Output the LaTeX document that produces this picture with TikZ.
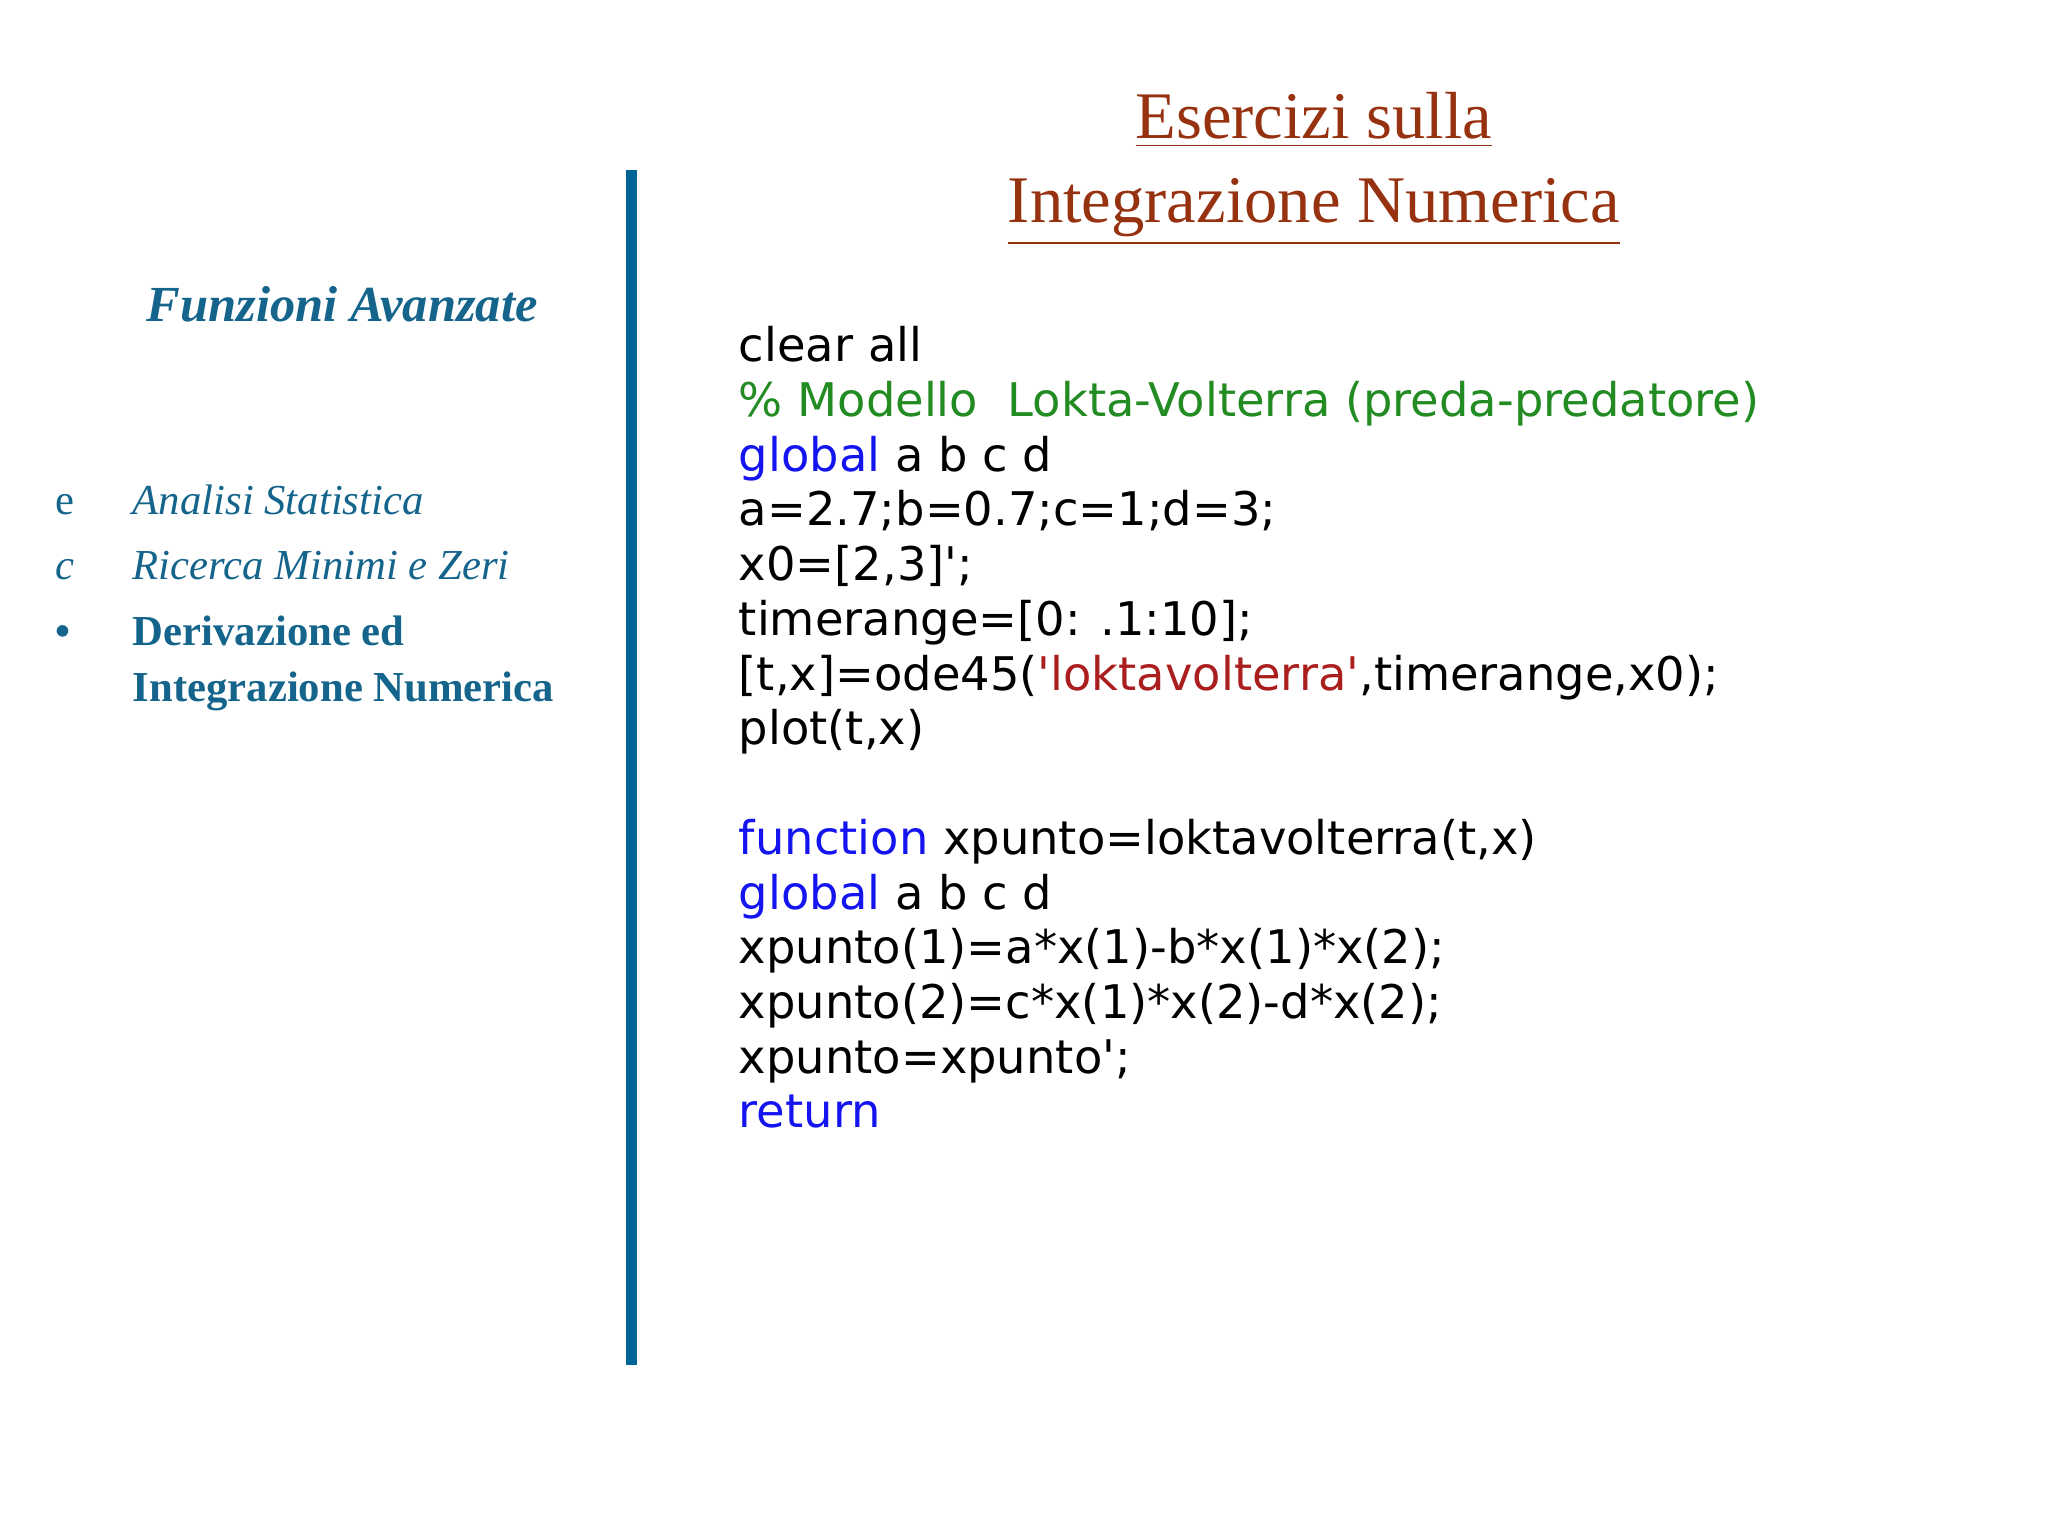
\documentclass[tikz,border=0pt]{standalone}
\usepackage{fontspec}
\setmainfont{Liberation Serif}
\newfontfamily\codefont{DejaVu Sans}
\definecolor{teal1}{RGB}{20,100,140}
\definecolor{bar}{RGB}{0,100,150}
\definecolor{brown1}{RGB}{150,50,15}
\definecolor{kw}{RGB}{20,20,240}
\definecolor{cm}{RGB}{34,139,34}
\definecolor{str}{RGB}{170,30,30}
\tikzset{code/.style={anchor=base west,inner sep=0,font=\codefont\fontsize{10.1}{12}\selectfont},
 side/.style={anchor=base west,inner sep=0,text=teal1,font=\fontsize{9.3}{12}\selectfont},
 ttl/.style={inner sep=0,text=brown1,font=\fontsize{14.5}{17}\selectfont}}
\begin{document}
\begin{tikzpicture}[x=0.01cm,y=-0.01cm]
\useasboundingbox (0,0) rectangle (1568,1176);
\node[ttl,anchor=base] (t1) at (1006,106) {\underline{Esercizi sulla}};
\node[ttl,anchor=base] (t2) at (1006,170) {\underline{Integrazione Numerica}};
\fill[bar] (479,130) rectangle (488,1045);
\node[anchor=base,inner sep=0,text=teal1,font=\fontsize{11}{13}\selectfont\bfseries\itshape] (fa) at (262,246) {Funzioni Avanzate};
\node[side] (b1) at (42,394) {e};
\node[side] (i1) at (101,394) {\itshape Analisi Statistica};
\node[side] (b2) at (42,444) {\itshape c};
\node[side] (i2) at (101,444) {\itshape Ricerca Minimi e Zeri};
\node[side] (b3) at (42,494) {\bfseries •};
\node[side] (i3) at (101,494) {\bfseries Derivazione ed};
\node[side] (i4) at (101,537) {\bfseries Integrazione Numerica};
\foreach \t [count=\i] in {
 {clear all},
 {\textcolor{cm}{\% Modello\ \ Lokta-Volterra (preda-predatore)}},
 {\textcolor{kw}{global} a b c d},
 {a=2.7;b=0.7;c=1;d=3;},
 {x0=[2,3]';},
 {timerange=[0: .1:10];},
 {[t,x]=ode45(\textcolor{str}{'loktavolterra'},timerange,x0);},
 {plot(t,x)},
 {},
 {\textcolor{kw}{function} xpunto=loktavolterra(t,x)},
 {\textcolor{kw}{global} a b c d},
 {xpunto(1)=a*x(1)-b*x(1)*x(2);},
 {xpunto(2)=c*x(1)*x(2)-d*x(2);},
 {xpunto=xpunto';},
 {\textcolor{kw}{return}}}
 \node[code] (c\i) at (565,{265+12+(\i-1)*41.9}) {\t};
\end{tikzpicture}
\end{document}
